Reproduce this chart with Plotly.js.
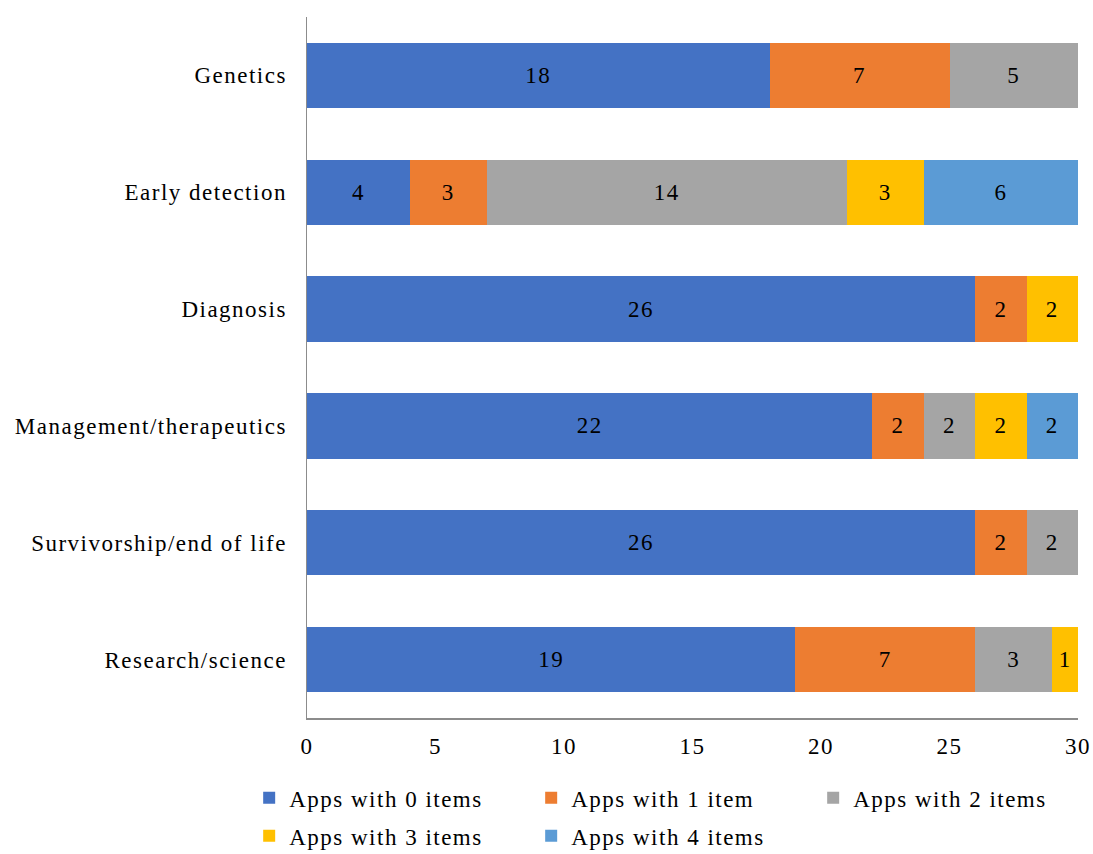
<!DOCTYPE html>
<html>
<head>
<meta charset="utf-8">
<script src="https://cdn.plot.ly/plotly-3.0.1.min.js"></script>
<style>
html,body{margin:0;padding:0;background:#fff;}
svg text{letter-spacing:1.5px;}
</style>
</head>
<body>
<div id="chart" style="width:1093px;height:854px;"></div>
<script>
const categories = ["Genetics", "Early detection", "Diagnosis", "Management/therapeutics", "Survivorship/end of life", "Research/science"];
const seriesNames = ["Apps with 0 items", "Apps with 1 item", "Apps with 2 items", "Apps with 3 items", "Apps with 4 items"];
const apps0 = [18, 4, 26, 22, 26, 19];
const apps1 = [7, 3, 2, 2, 2, 7];
const apps2 = [5, 14, 0, 2, 2, 3];
const apps3 = [0, 3, 2, 2, 0, 1];
const apps4 = [0, 6, 0, 2, 0, 0];
const xTicks = [0, 5, 10, 15, 20, 25, 30];

const colors = ["#4472C4", "#ED7D31", "#A5A5A5", "#FFC000", "#5B9BD5"];
const legendOf = ["legend", "legend", "legend", "legend2", "legend2"];
const allSeries = [apps0, apps1, apps2, apps3, apps4];
const font = "Liberation Serif";
const fs = 23;

const traces = allSeries.map((vals, i) => ({
  type: "bar",
  orientation: "h",
  name: seriesNames[i],
  legend: legendOf[i],
  y: categories,
  x: vals,
  text: vals.map(v => v === 0 ? "" : String(v)),
  textposition: "inside",
  insidetextanchor: "middle",
  textangle: 0,
  textfont: {family: font, size: fs, color: "#000"},
  constraintext: "none",
  marker: {color: colors[i], line: {width: 0}},
  hoverinfo: "x+y+name"
}));

const legendCommon = {
  orientation: "h",
  xanchor: "left",
  yanchor: "middle",
  entrywidth: 237,
  entrywidthmode: "pixels",
  itemwidth: 30,
  traceorder: "normal",
  font: {family: font, size: fs, color: "#000"},
  bgcolor: "rgba(0,0,0,0)",
  borderwidth: 0
};

const layout = {
  width: 1093,
  height: 854,
  margin: {l: 307, r: 15, t: 17, b: 136, autoexpand: false},
  barmode: "stack",
  bargap: 0.44,
  paper_bgcolor: "#fff",
  plot_bgcolor: "#fff",
  font: {family: font, size: fs, color: "#000"},
  showlegend: true,
  xaxis: {
    range: [0, 30],
    tickvals: xTicks,
    ticktext: xTicks.map(String),
    showgrid: false,
    zeroline: false,
    showline: true,
    linecolor: "#8c8c8c",
    linewidth: 1.5,
    ticks: "",
    ticklabelstandoff: 7,
    tickfont: {family: font, size: fs, color: "#000"},
    automargin: false,
    fixedrange: true
  },
  yaxis: {
    categoryorder: "array",
    categoryarray: categories,
    autorange: "reversed",
    showgrid: false,
    zeroline: false,
    showline: true,
    linecolor: "#8c8c8c",
    linewidth: 1.5,
    ticks: "",
    ticklabelstandoff: 14,
    tickfont: {family: font, size: fs, color: "#000"},
    automargin: false,
    fixedrange: true
  },
  legend: Object.assign({}, legendCommon, {x: -0.075, y: -0.114}),
  legend2: Object.assign({}, legendCommon, {x: -0.075, y: -0.168})
};

Plotly.newPlot("chart", traces, layout, {displayModeBar: false, staticPlot: true});
</script>
</body>
</html>
